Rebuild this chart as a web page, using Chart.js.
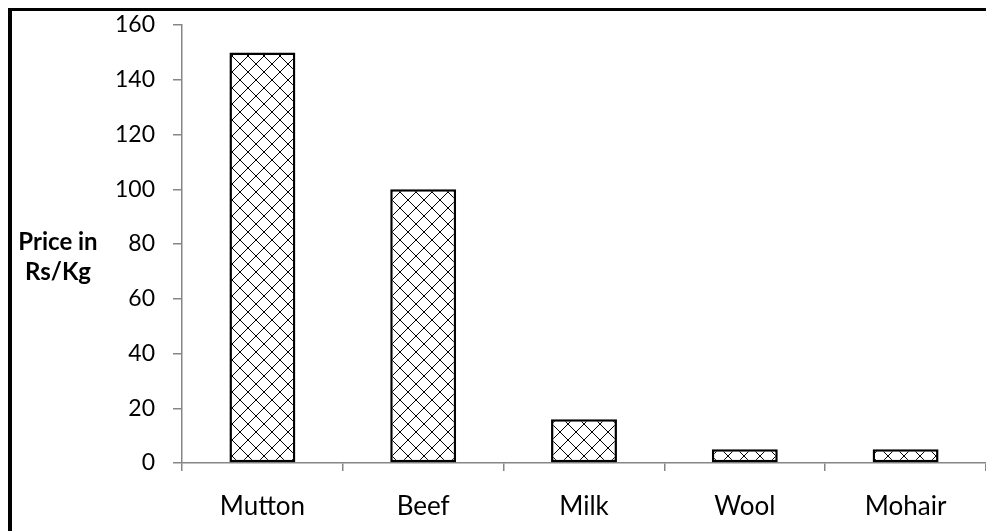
<!DOCTYPE html>
<html>
<head>
<meta charset="utf-8">
<script src="https://cdn.jsdelivr.net/npm/chart.js@4.4.0/dist/chart.umd.min.js"></script>
<style>
  html, body { margin: 0; padding: 0; background: #fff; }
  #wrap { position: relative; width: 986px; height: 531px; }
  #frame {
    position: absolute; left: 8px; top: 8px; right: 0; bottom: 0;
    border-left: 4px solid #000; border-top: 3px solid #000;
    pointer-events: none;
  }
  #yTitle {
    position: absolute; left: 12px; top: 226px; width: 92px;
    text-align: center; font: bold 24px Lato, sans-serif; line-height: 30px;
    color: #000;
  }
</style>
</head>
<body>
<div id="wrap">
  <canvas id="priceChart" width="986" height="531"></canvas>
  <div id="frame"></div>
  <div id="yTitle">Price in<br>Rs/Kg</div>
</div>
<script>
const products = ['Mutton', 'Beef', 'Milk', 'Wool', 'Mohair'];
const prices = [150, 100, 16, 5, 5];
const yTicks = [0, 20, 40, 60, 80, 100, 120, 140, 160];

// cross hatch fill like the excel pattern
function makeHatch() {
  const size = 16;
  const c = document.createElement('canvas');
  c.width = size;
  c.height = size;
  const g = c.getContext('2d');
  g.fillStyle = '#fff';
  g.fillRect(0, 0, size, size);
  g.fillStyle = '#000';
  for (let i = 0; i < size; i++) {
    g.fillRect(i, i, 1, 1);
    g.fillRect(size - 1 - i, i, 1, 1);
  }
  return g.createPattern(c, 'repeat');
}

const axisGrey = '#868686';
const ctx = document.getElementById('priceChart');

const priceChart = new Chart(ctx, {
  type: 'bar',
  data: {
    labels: products,
    datasets: [{
      label: 'Price',
      data: prices,
      backgroundColor: makeHatch(),
      borderColor: '#000',
      borderWidth: 2.5,
      borderSkipped: false,
      barPercentage: 0.41,
      categoryPercentage: 1
    }]
  },
  options: {
    responsive: false,
    animation: false,
    layout: { padding: { top: 25, right: 0, bottom: 0, left: 0 } },
    plugins: {
      legend: { display: false },
      tooltip: { enabled: false }
    },
    scales: {
      x: {
        offset: true,
        afterFit: function (scale) {
          scale.height = 68;
          scale.paddingLeft = 0;
          scale.paddingRight = 0;
        },
        grid: {
          offset: true,
          drawOnChartArea: false,
          drawTicks: true,
          tickLength: 8,
          color: axisGrey,
          lineWidth: 1.5
        },
        border: { color: axisGrey, width: 1.5 },
        ticks: {
          color: '#000',
          padding: 20,
          font: { family: 'Lato', size: 26 }
        }
      },
      y: {
        min: 0,
        max: 160,
        afterFit: function (scale) {
          scale.width = 182;
          scale.paddingTop = 0;
          scale.paddingBottom = 0;
        },
        afterBuildTicks: function (scale) {
          scale.ticks = yTicks.map(v => ({ value: v }));
        },
        grid: {
          drawOnChartArea: false,
          drawTicks: true,
          tickLength: 9,
          color: axisGrey,
          lineWidth: 1.5
        },
        border: { color: axisGrey, width: 1.5 },
        ticks: {
          color: '#000',
          padding: 18,
          font: { family: 'Lato', size: 23 }
        }
      }
    }
  }
});
</script>
</body>
</html>
